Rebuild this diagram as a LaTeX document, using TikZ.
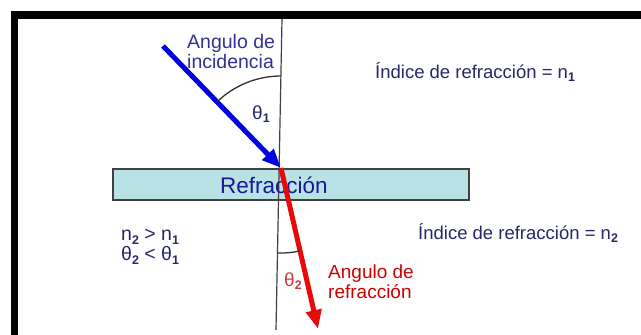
\documentclass[tikz,border=0pt]{standalone}
\usepackage{fontspec}
\setmainfont{Liberation Sans}
\usetikzlibrary{arrows.meta}
\definecolor{navy}{RGB}{40,40,105}
\definecolor{labblue}{RGB}{50,50,150}
\definecolor{refblue}{RGB}{25,25,150}
\definecolor{boxfill}{RGB}{185,226,228}
\definecolor{rayblue}{RGB}{0,0,225}
\definecolor{rayred}{RGB}{232,10,10}
\definecolor{labred}{RGB}{205,0,0}
\definecolor{thred}{RGB}{200,60,60}
\newcommand{\lsub}[1]{\raisebox{-0.35ex}{\fontsize{12.5}{12.5}\selectfont\bfseries #1}}
\newcommand{\fs}[1]{\fontsize{#1}{20}\selectfont}
\begin{document}
\begin{tikzpicture}[x=1pt,y=-1pt,
  lab/.style={inner sep=0pt, align=left, anchor=west},
  ray/.style={line width=5pt, -{Triangle[length=19pt,width=15pt]}},
  arcline/.style={line width=1.3pt, draw=black!80}]
\useasboundingbox (0,0) rectangle (641,335);
\fill[white] (0,0) rectangle (641,335);
\begin{scope}
\clip (0,0) rectangle (641,335);
\draw[line width=7.5pt] (14.5,15) rectangle (700,400);
\end{scope}
% glass slab
\node[draw=black!75, line width=1.2pt, fill=boxfill, minimum width=356pt, minimum height=31pt, inner sep=0pt] (slab) at (291,184.5) {};
% normal
\coordinate (ntop) at (282,19);
\coordinate (nbot) at (276,330);
\draw[line width=1.2pt, black!75] (ntop) -- (nbot);
\node[inner sep=0pt, text=refblue, font=\fs{22.5}] (reftxt) at (274,185) {Refracción};
% rays
\coordinate (src) at (163,46);
\coordinate (hit) at (281,168);
\coordinate (tip2) at (318,329);
\draw[ray, rayred] (hit) -- (tip2);
\draw[ray, rayblue] (src) -- (hit);
% angle arcs
\draw[arcline] (281,76) arc[start angle=-90, end angle=-134, radius=92];
\draw[arcline] (278,253) arc[start angle=92, end angle=77, radius=85];
\node[inner sep=0pt, text=navy, font=\fs{19}] (th1) at (261,114) {θ\lsub{1}};
\node[inner sep=0pt, text=thred, font=\fs{19}] (th2) at (293,281) {θ\lsub{2}};
% labels
\node[lab, text=labblue, font=\fs{19.5}] (inc) at (187,52) {Angulo de\\incidencia};
\node[lab, text=labred, font=\fs{19}] (refr) at (328,282) {Angulo de\\refracción};
\node[lab, text=navy, font=\fs{18.5}] (n1) at (375,72) {Índice de refracción = n\lsub{1}};
\node[lab, text=navy, font=\fs{18.5}] (n2) at (418,233) {Índice de refracción = n\lsub{2}};
\node[lab, text=navy, font=\fs{19.5}] (rel) at (121,247) {n\lsub{2} > n\lsub{1}\\θ\lsub{2} < θ\lsub{1}};
\end{tikzpicture}
\end{document}
